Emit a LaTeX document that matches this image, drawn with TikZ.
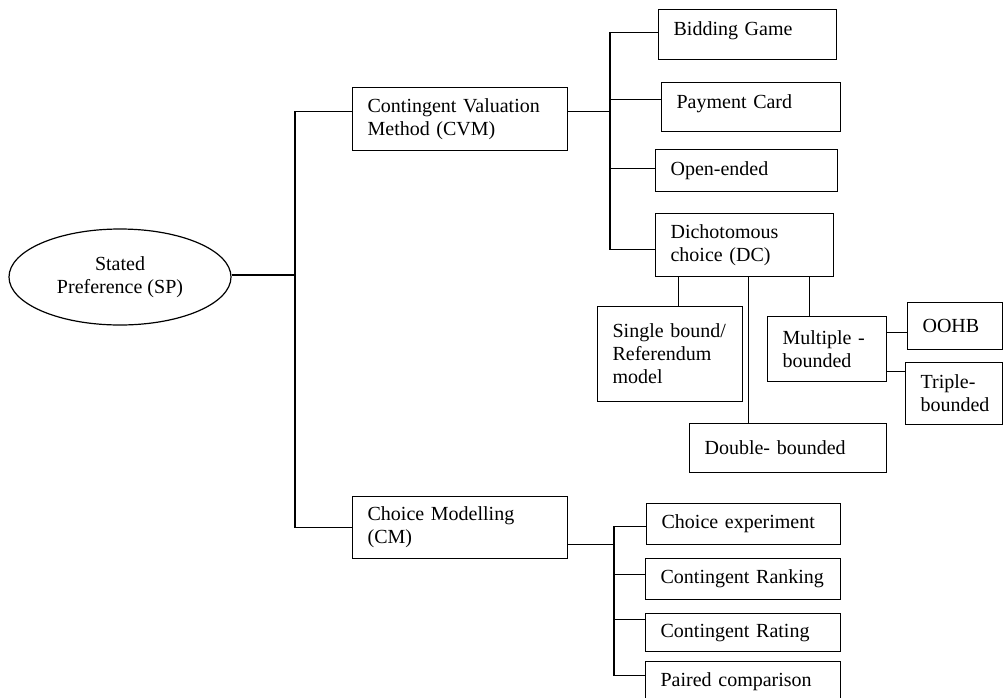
\documentclass[tikz,border=0pt]{standalone}
\usepackage{fontspec}
\setmainfont{Liberation Serif}
\usetikzlibrary{shapes.geometric}
\begin{document}
\begin{tikzpicture}[x=1pt, y=-1pt, line width=1.2pt, font=\fontsize{20}{23}\selectfont,
  box/.style={draw, rectangle, anchor=north west, align=left, inner xsep=15pt, inner ysep=0pt}]
\useasboundingbox (0,0) rectangle (1003,697);
\node[ellipse, draw, minimum width=222pt, minimum height=96pt, inner sep=0pt, align=center] (sp) at (120,277) {Stated\\Preference (SP)};
\node[box, minimum width=215pt, minimum height=63pt, text width=185pt] (cvm) at (352,87) {Contingent~Valuation\\Method~(CVM)};
\node[box, minimum width=215pt, minimum height=62pt, text width=185pt] (cm) at (352,496) {Choice~Modelling\\(CM)};
\node[box, minimum width=178pt, minimum height=50pt, text width=148pt, text depth=12pt] (bg) at (658,9) {Bidding~Game};
\node[box, minimum width=179pt, minimum height=49pt, text width=149pt, text depth=12pt] (pc) at (661,82) {Payment~Card};
\node[box, minimum width=182pt, minimum height=42pt, text width=152pt] (oe) at (655,149) {Open-ended};
\node[box, minimum width=178pt, minimum height=63pt, text width=148pt] (dc) at (655,213) {Dichotomous\\choice~(DC)};
\node[box, minimum width=145pt, minimum height=95pt, text width=115pt] (sb) at (597,306) {Single~bound/\\Referendum\\model};
\node[box, minimum width=119pt, minimum height=65pt, text width=89pt] (mb) at (767,316) {Multiple~-\\bounded};
\node[box, minimum width=197pt, minimum height=49pt, text width=167pt] (db) at (689,423) {Double-~bounded};
\node[box, minimum width=95pt, minimum height=47pt, text width=65pt] (oohb) at (907,302) {OOHB};
\node[box, minimum width=97pt, minimum height=62pt, text width=67pt] (tb) at (905,362) {Triple-\\bounded};
\node[box, minimum width=194pt, minimum height=41pt, text width=164pt] (ce) at (646,503) {Choice~experiment};
\node[box, minimum width=195pt, minimum height=41pt, text width=165pt] (cr) at (645,558) {Contingent~Ranking};
\node[box, minimum width=195pt, minimum height=38pt, text width=165pt] (crt) at (645,613) {Contingent~Rating};
\node[box, minimum width=195pt, minimum height=40pt, text width=165pt] (pcmp) at (645,661) {Paired~comparison};
\coordinate (j1) at (295,0);
\coordinate (j2) at (610,0);
\coordinate (j3) at (614,0);
\draw ([yshift=2pt]sp.east) -- ([yshift=2pt]sp.east -| j1);
\draw ([yshift=7.5pt]cvm.west) -| (cm.west -| j1) -- (cm.west);
\draw ([yshift=7.5pt]cvm.east) -- ([yshift=7.5pt]cvm.east -| j2);
\draw ([yshift=2.5pt]bg.west) -| ([yshift=-4.5pt]dc.west -| j2) -- ([yshift=-4.5pt]dc.west);
\draw ([yshift=7.5pt]pc.west) -- ([yshift=7.5pt]pc.west -| j2);
\draw ([yshift=2pt]oe.west) -- ([yshift=2pt]oe.west -| j2);
\draw ([xshift=8.5pt]sb.north) -- ([xshift=8.5pt]sb.north |- dc.south);
\draw ([xshift=-39.5pt]db.north) -- ([xshift=-39.5pt]db.north |- dc.south);
\draw ([xshift=-17.5pt]mb.north) -- ([xshift=-17.5pt]mb.north |- dc.south);
\draw ([yshift=16.5pt]mb.east) -- ([yshift=16.5pt]mb.east -| oohb.west);
\draw ([yshift=-22.5pt]mb.east) -- ([yshift=-22.5pt]mb.east -| tb.west);
\draw ([yshift=-17pt]cm.east) -- ([yshift=-17pt]cm.east -| j3);
\draw ([yshift=-2.5pt]ce.west) -| ([yshift=6.5pt]pcmp.west -| j3) -- ([yshift=6.5pt]pcmp.west);
\draw ([yshift=4.5pt]cr.west) -- ([yshift=4.5pt]cr.west -| j3);
\draw ([yshift=13pt]crt.west) -- ([yshift=13pt]crt.west -| j3);
\end{tikzpicture}
\end{document}
